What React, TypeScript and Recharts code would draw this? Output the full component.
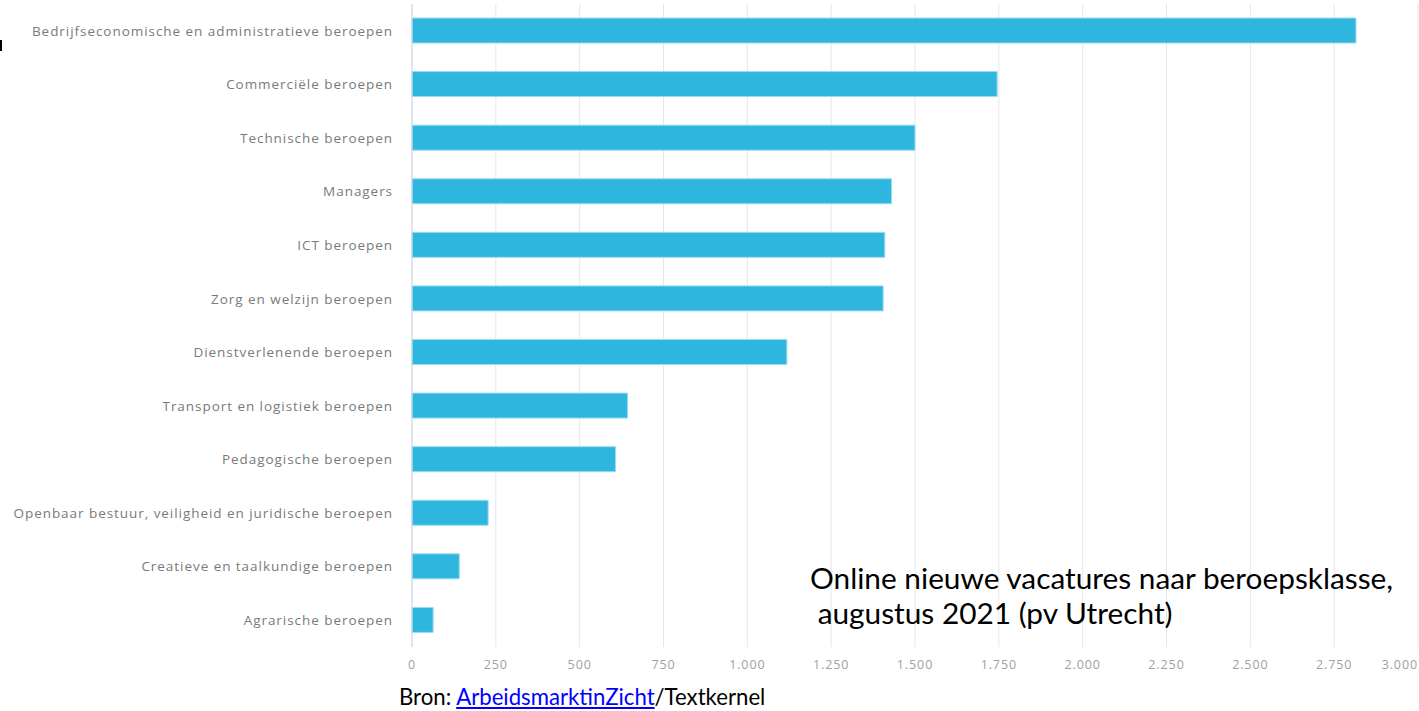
import React from 'react';
import { BarChart, Bar, XAxis, YAxis, CartesianGrid } from 'recharts';

const categories = [
  'Bedrijfseconomische en administratieve beroepen',
  'Commerciële beroepen',
  'Technische beroepen',
  'Managers',
  'ICT beroepen',
  'Zorg en welzijn beroepen',
  'Dienstverlenende beroepen',
  'Transport en logistiek beroepen',
  'Pedagogische beroepen',
  'Openbaar bestuur, veiligheid en juridische beroepen',
  'Creatieve en taalkundige beroepen',
  'Agrarische beroepen',
];

const vacatures = [2815, 1745, 1500, 1430, 1410, 1405, 1118, 643, 607, 227, 141, 63];

const xTicks = [0, 250, 500, 750, 1000, 1250, 1500, 1750, 2000, 2250, 2500, 2750, 3000];

const titleLines = ['Online nieuwe vacatures naar beroepsklasse,', ' augustus 2021 (pv Utrecht)'];

const BAR_COLOR = '#2eb6de';
const LABEL_FONT = '"Open Sans", sans-serif';

const fmt = (v: number) => v.toString().replace(/\B(?=(\d{3})+(?!\d))/g, '.');

const data = categories.map((name, i) => ({ name, value: vacatures[i] }));

function ValueTick(props: any) {
  const { x, y, payload, index } = props;
  const last = index === xTicks.length - 1;
  return (
    <text
      x={x}
      y={y}
      dy="0.71em"
      textAnchor={last ? 'end' : 'middle'}
      fill="#a0a0a0"
      fontSize={12.5}
      fontFamily={LABEL_FONT}
      letterSpacing={0.9}
    >
      {fmt(payload.value)}
    </text>
  );
}

export default function App() {
  return (
    <div style={{ position: 'absolute', left: 0, top: 0, width: 1419, height: 711, background: '#fff', overflow: 'hidden' }}>
      <div style={{ position: 'absolute', left: 0, top: 40, width: 2, height: 11, background: '#000' }} />
      <BarChart
        width={1419}
        height={711}
        data={data}
        layout="vertical"
        margin={{ top: 4, right: 1, left: 0, bottom: 34 }}
        barSize={25}
      >
        <CartesianGrid horizontal={false} stroke="#e6e6e6" />
        <XAxis
          type="number"
          domain={[0, 3000]}
          ticks={xTicks}
          axisLine={false}
          tickLine={false}
          tickMargin={7}
          height={30}
          interval={0}
          tick={<ValueTick />}
        />
        <YAxis
          type="category"
          dataKey="name"
          width={412}
          axisLine={{ stroke: '#ccd6eb' }}
          tickLine={false}
          tickMargin={13}
          interval={0}
          tick={{ fill: '#7a7a7a', fontSize: 13.5, fontFamily: LABEL_FONT, letterSpacing: 0.95 }}
        />
        <Bar dataKey="value" fill={BAR_COLOR} stroke="#9bdcf0" strokeWidth={1} isAnimationActive={false} />
      </BarChart>
      <div
        style={{
          position: 'absolute',
          left: 810,
          top: 560,
          fontFamily: 'Lato, sans-serif',
          fontSize: 29.8,
          lineHeight: '35px',
          color: '#000',
          whiteSpace: 'pre',
        }}
      >
        {titleLines.map((l) => (
          <div key={l}>{l}</div>
        ))}
      </div>
      <div
        style={{
          position: 'absolute',
          left: 399,
          top: 685,
          fontFamily: 'Lato, sans-serif',
          fontSize: 22.2,
          lineHeight: '23px',
          color: '#000',
          whiteSpace: 'pre',
        }}
      >
        Bron: <a href="#" style={{ color: '#0000ff', textDecoration: 'underline' }}>ArbeidsmarktinZicht</a>/Textkernel
      </div>
    </div>
  );
}
